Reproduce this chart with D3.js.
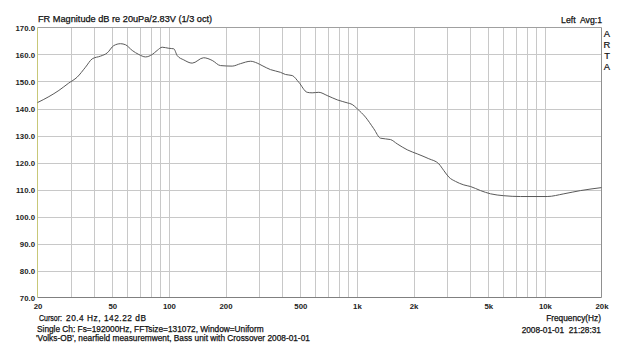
<!DOCTYPE html>
<html>
<head>
<meta charset="utf-8">
<script src="https://cdn.jsdelivr.net/npm/d3@7/dist/d3.min.js"></script>
<style>
  html, body { margin: 0; padding: 0; background: #fff; }
  svg { display: block; font-family: "Liberation Sans", Arial, sans-serif; }
</style>
</head>
<body>
<svg id="chart" width="639" height="347"></svg>
<script>
// Frequency response, 1/3 octave smoothing (Hz, dB re 20uPa/2.83V)
const freqs = [20, 23, 26, 29.3, 32.5, 36, 39.1, 43.3, 47, 50.9, 55.3, 58.8, 63.8, 69.2, 75.1,
  81.5, 86.6, 92.1, 99.9, 106.2, 110.7, 120, 133, 153, 170, 188, 217, 240, 272, 295, 313,
  347, 392, 417, 453, 491, 544, 578, 627, 695, 786, 888, 944, 1004, 1111, 1230, 1335, 1509,
  1638, 1852, 2093, 2412, 2727, 2900, 3083, 3345, 3704, 4022, 4544, 5136, 6044, 7416, 10284,
  12606, 15466, 20000];
const levels = [142.2, 144.4, 146.7, 149.4, 151.6, 155.3, 158.4, 159.4, 160.6, 163.3, 164.0, 163.6,
  161.5, 160.0, 159.1, 160.0, 161.5, 162.7, 162.3, 162.1, 159.6, 158.0, 156.8, 158.8, 157.8,
  155.9, 155.7, 156.6, 157.5, 156.8, 155.9, 154.4, 153.4, 152.6, 152.2, 149.7, 146.0, 145.8,
  146.0, 144.8, 143.2, 142.1, 141.5, 139.9, 136.8, 132.5, 129.0, 128.5, 126.9, 124.7, 123.2,
  121.4, 119.5, 117.0, 114.6, 113.0, 111.7, 111.1, 109.6, 108.4, 107.7, 107.4, 107.4, 108.4,
  109.6, 110.7];

const xTickValues = [20, 50, 100, 200, 500, 1000, 2000, 5000, 10000, 20000];
const xTickLabels = ["20", "50", "100", "200", "500", "1k", "2k", "5k", "10k", "20k"];
const yTickValues = [70, 80, 90, 100, 110, 120, 130, 140, 150, 160, 170];

const svg = d3.select("#chart");
const plotL = 37.5, plotR = 601.5, plotT = 27.5, plotB = 297.5;

const x = d3.scaleLog().domain([20, 20000]).range([plotL, plotR]);
const y = d3.scaleLinear().domain([70, 170]).range([plotB, plotT]);

// Grid: vertical lines at every 1-2-...-9 step per decade
const gridFreqs = [];
for (let dec = 10; dec <= 10000; dec *= 10) {
  for (let m = 1; m <= 9; m++) {
    const f = dec * m;
    if (f > 20 && f < 20000) gridFreqs.push(f);
  }
}
const grid = svg.append("g").attr("stroke", "#c8c8c8").attr("stroke-width", 1);
grid.selectAll("line.v").data(gridFreqs).enter().append("line")
  .attr("x1", d => Math.round(x(d)) + 0.5).attr("x2", d => Math.round(x(d)) + 0.5)
  .attr("y1", plotT).attr("y2", plotB);
grid.selectAll("line.h").data(yTickValues.slice(1, -1)).enter().append("line")
  .attr("x1", plotL).attr("x2", plotR)
  .attr("y1", d => Math.round(y(d)) + 0.5).attr("y2", d => Math.round(y(d)) + 0.5);

// Frame
svg.append("line").attr("x1", plotL).attr("x2", plotR).attr("y1", plotT).attr("y2", plotT)
  .attr("stroke", "#a0a0a0");
svg.append("line").attr("x1", plotR).attr("x2", plotR).attr("y1", plotT).attr("y2", plotB)
  .attr("stroke", "#909090");
svg.append("line").attr("x1", plotL).attr("x2", plotR).attr("y1", plotB).attr("y2", plotB)
  .attr("stroke", "#808080");
svg.append("line").attr("x1", plotL).attr("x2", plotL).attr("y1", plotT).attr("y2", plotB)
  .attr("stroke", "#c8c878");

const FONT = "'Liberation Sans', Arial, sans-serif";

// Y axis labels
const yAxis = d3.axisLeft(y).tickValues(yTickValues).tickSize(0).tickPadding(2)
  .tickFormat(d3.format(".1f"));
const gy = svg.append("g").attr("transform", `translate(${plotL - 0.5},0)`).call(yAxis);
gy.select(".domain").remove();
gy.selectAll("text").attr("font-size", 7.8).attr("fill", "#222")
  .attr("font-family", FONT).attr("font-weight", "bold");

// X axis labels
const xAxis = d3.axisBottom(x).tickValues(xTickValues).tickSize(0).tickPadding(5.5)
  .tickFormat((d, i) => xTickLabels[i]);
const gx = svg.append("g").attr("transform", `translate(0,${plotB})`).call(xAxis);
gx.select(".domain").remove();
gx.selectAll("text").attr("font-size", 7.8).attr("fill", "#222")
  .attr("font-family", FONT).attr("font-weight", "bold");

// Response curve
const line = d3.line().x((d, i) => x(freqs[i])).y(d => y(d)).curve(d3.curveMonotoneX);
svg.append("path").datum(levels).attr("d", line)
  .attr("fill", "none").attr("stroke", "#5a5a5a").attr("stroke-width", 1);

// Texts (thin outline gives the heavier look of the screen font)
const txt = (s, xx, yy, anchor, size) => svg.append("text").text(s)
  .attr("x", xx).attr("y", yy).attr("text-anchor", anchor || "start")
  .attr("font-size", size || 8.3).attr("fill", "#111").attr("font-family", FONT)
  .attr("stroke", "#111").attr("stroke-width", 0.25)
  .attr("xml:space", "preserve");

txt("FR Magnitude dB re 20uPa/2.83V (1/3 oct)", 38, 21.5, "start", 9.2);
txt("Left  Avg:1", 602, 22.5, "end", 8.7);
// Vertical program tag on the right edge
svg.append("text").text("ARTA")
  .attr("x", 607).attr("y", 28)
  .attr("font-size", 9.4).attr("fill", "#111").attr("font-family", FONT)
  .attr("stroke", "#111").attr("stroke-width", 0.2)
  .style("writing-mode", "vertical-lr").style("text-orientation", "upright");
txt("Cursor:", 39, 321).attr("textLength", 23).attr("lengthAdjust", "spacingAndGlyphs");
txt("20.4 Hz, 142.22 dB", 66, 321).attr("textLength", 80).attr("lengthAdjust", "spacing");
txt("Single Ch: Fs=192000Hz, FFTsize=131072, Window=Uniform", 37, 331.5);
txt("'Volks-OB', nearfield measuremwent, Bass unit with Crossover 2008-01-01", 36, 340.5);
txt("Frequency(Hz)", 601, 320.5, "end");
txt("2008-01-01  21:28:31", 601, 333, "end");
</script>
</body>
</html>
